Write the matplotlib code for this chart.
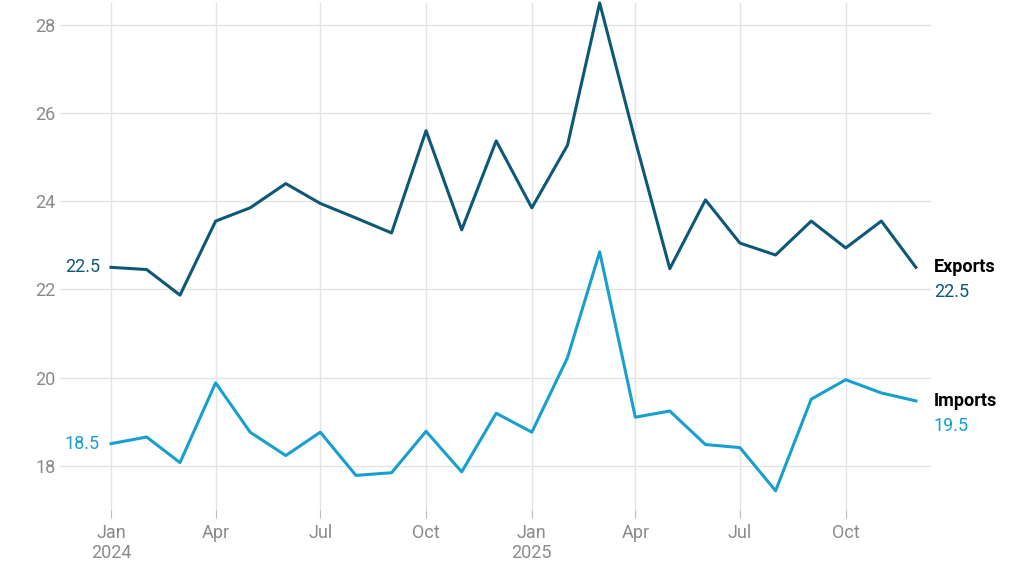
import matplotlib.pyplot as plt
import pandas as pd

plt.rcParams['font.family'] = ['Roboto', 'DejaVu Sans']

months = pd.date_range('2024-01-01', periods=24, freq='MS')
exports = [22.5, 22.45, 21.87, 23.55, 23.85, 24.4, 23.95, 23.62, 23.28, 25.6, 23.35, 25.37,
           23.85, 25.27, 28.5, 25.37, 22.47, 24.03, 23.05, 22.78, 23.55, 22.94, 23.55, 22.5]
imports = [18.5, 18.65, 18.07, 19.88, 18.76, 18.23, 18.76, 17.78, 17.84, 18.78, 17.86, 19.19,
           18.76, 20.45, 22.85, 19.1, 19.24, 18.48, 18.41, 17.43, 19.51, 19.95, 19.65, 19.47]

c_exp = '#0d5876'
c_imp = '#169fcf'

fig = plt.figure(figsize=(10.24, 5.76), dpi=100)
ax = fig.add_axes([0.059, 0.115, 0.85, 0.88])
ax.plot(months, exports, color=c_exp, lw=2.2, clip_on=False)
ax.plot(months, imports, color=c_imp, lw=2.2, clip_on=False)

ax.set_xlim(pd.Timestamp('2023-11-18'), pd.Timestamp('2025-12-14'))
ax.set_ylim(17.0, 28.5)
ax.set_yticks([18, 20, 22, 24, 26, 28])
ticks = pd.date_range('2024-01-01', periods=8, freq='3MS')
ax.set_xticks(ticks)
ax.set_xticklabels(['Jan\n2024', 'Apr', 'Jul', 'Oct', 'Jan\n2025', 'Apr', 'Jul', 'Oct'])
ax.grid(color='#e3e3e3', lw=1)
ax.set_axisbelow(True)
for s in ax.spines.values():
    s.set_visible(False)
ax.tick_params(axis='both', colors='#8a8a8a', labelsize=13, length=0)
ax.tick_params(axis='x', length=6, color='#bbbbbb', pad=4)

ax.annotate(f'{exports[0]:.1f}', (months[0], exports[0]), xytext=(-8, 0), textcoords='offset points',
            ha='right', va='center', color=c_exp, fontsize=13)
ax.annotate(f'{imports[0]:.1f}', (months[0], imports[0]), xytext=(-8, 0), textcoords='offset points',
            ha='right', va='center', color=c_imp, fontsize=13)
ax.annotate('Exports', (months[-1], exports[-1]), xytext=(13, 0), textcoords='offset points',
            ha='left', va='center', color='black', fontsize=13, fontweight='bold', annotation_clip=False)
ax.annotate(f'{exports[-1]:.1f}', (months[-1], exports[-1]), xytext=(13, -18), textcoords='offset points',
            ha='left', va='center', color=c_exp, fontsize=13, annotation_clip=False)
ax.annotate('Imports', (months[-1], imports[-1]), xytext=(13, 0), textcoords='offset points',
            ha='left', va='center', color='black', fontsize=13, fontweight='bold', annotation_clip=False)
ax.annotate(f'{imports[-1]:.1f}', (months[-1], imports[-1]), xytext=(13, -18), textcoords='offset points',
            ha='left', va='center', color=c_imp, fontsize=13, annotation_clip=False)

fig.savefig('out.png')
